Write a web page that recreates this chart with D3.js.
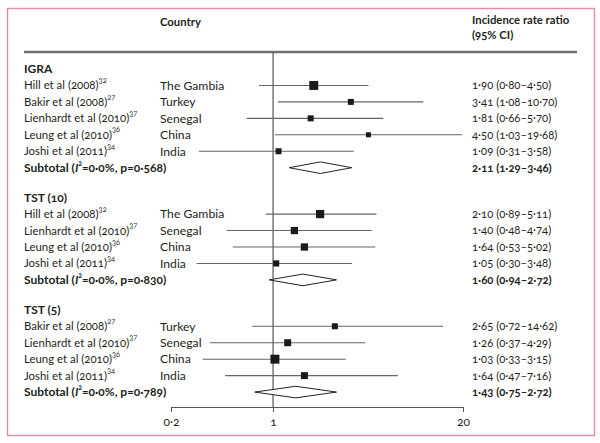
<!DOCTYPE html>
<html><head><meta charset="utf-8">
<script src="https://cdn.jsdelivr.net/npm/d3@7"></script>
<style>
body{margin:0;background:#fff;}
svg text{font-family:Lato,"Open Sans",sans-serif;fill:#231f20;font-variant-numeric:oldstyle-nums;}
</style></head>
<body><svg id="chart" width="600" height="443"></svg>
<script>
// ---- data ----
const groups = ["IGRA", "TST (10)", "TST (5)"];
const studyGroup = [0,0,0,0,0, 1,1,1,1, 2,2,2,2];
const studyNames = ["Hill et al (2008)","Bakir et al (2008)","Lienhardt et al (2010)","Leung et al (2010)","Joshi et al (2011)",
  "Hill et al (2008)","Lienhardt et al (2010)","Leung et al (2010)","Joshi et al (2011)",
  "Bakir et al (2008)","Lienhardt et al (2010)","Leung et al (2010)","Joshi et al (2011)"];
const studyRefs = ["32","27","37","36","34", "32","37","36","34", "27","37","36","34"];
const countries = ["The Gambia","Turkey","Senegal","China","India",
  "The Gambia","Senegal","China","India",
  "Turkey","Senegal","China","India"];
const estimates = [1.90,3.41,1.81,4.50,1.09, 2.10,1.40,1.64,1.05, 2.65,1.26,1.03,1.64];
const lower     = [0.80,1.08,0.66,1.03,0.31, 0.89,0.48,0.53,0.30, 0.72,0.37,0.33,0.47];
const upper     = [4.50,10.70,5.70,19.68,3.58, 5.11,4.74,5.02,3.48, 14.62,4.29,3.15,7.16];
const weights   = [38,17,17,12,17, 32,25,25,18, 17,23,38,23];
const subtotalI2 = ["0·0%","0·0%","0·0%"];
const subtotalP  = ["0·568","0·830","0·789"];
const subEst = [2.11,1.60,1.43];
const subLo  = [1.29,0.94,0.75];
const subHi  = [3.46,2.72,2.72];
const axisTicks = [0.2, 1, 20];
const tickLabels = ["0·2","1","20"];

// ---- build rows ----
const fmt = v => v.toFixed(2).replace(".", "·");
const rows = [];
let unit = 0;
const gap = 0.82;
groups.forEach((g, gi) => {
  if (gi > 0) unit += gap;
  rows.push({type:"head", label:g, u:unit++});
  studyNames.forEach((n, i) => {
    if (studyGroup[i] !== gi) return;
    rows.push({type:"study", name:n, ref:studyRefs[i], country:countries[i],
      est:estimates[i], lo:lower[i], hi:upper[i], w:weights[i], u:unit++});
  });
  rows.push({type:"sub", i2:subtotalI2[gi], p:subtotalP[gi], est:subEst[gi], lo:subLo[gi], hi:subHi[gi], u:unit++});
});

const rowH = 16.45;
const y = d3.scaleLinear().domain([0, 1]).range([69, 69 + rowH]);
const x = d3.scaleLog().domain([0.2, 20]).range([171, 463]);
const size = d3.scaleSqrt().domain([0, 40]).range([0, 9.2]);

const svg = d3.select("#chart");
const FSN = 11.4, FSC = 12.2, FSCI = 11.3, FSB = 12, FSH = 11.3;

// border
svg.append("rect").attr("x", 7.5).attr("y", 8.5).attr("width", 587).attr("height", 427)
  .attr("fill", "none").attr("stroke", "#e58aab").attr("stroke-width", 1.4);

// headers
svg.append("text").attr("x", 160).attr("y", 22).attr("dy", "0.35em")
  .attr("font-size", FSH).attr("font-weight", 700).text("Country");
svg.append("text").attr("x", 472).attr("y", 20.5).attr("dy", "0.35em")
  .attr("font-size", FSH).attr("font-weight", 700).text("Incidence rate ratio");
svg.append("text").attr("x", 472).attr("y", 35).attr("dy", "0.35em")
  .attr("font-size", FSH).attr("font-weight", 700).text("(95% CI)");
svg.append("line").attr("x1", 24).attr("x2", 577).attr("y1", 52).attr("y2", 52)
  .attr("stroke", "#707070").attr("stroke-width", 2.5);

// axis
const axisY = 407;
const axisG = svg.append("g").attr("transform", `translate(0,${axisY})`)
  .call(d3.axisBottom(x).tickValues(axisTicks).tickFormat((d, i) => tickLabels[i]).tickSize(5).tickSizeOuter(0));
axisG.select(".domain").attr("stroke", "#555");
axisG.selectAll(".tick line").attr("stroke", "#555");
axisG.selectAll(".tick text").attr("font-size", 12).attr("font-family", "Lato, sans-serif")
  .attr("fill", "#231f20").attr("dy", "0.9em");

// null line
svg.append("line").attr("x1", x(1)).attr("x2", x(1)).attr("y1", 53).attr("y2", axisY)
  .attr("stroke", "#333").attr("stroke-width", 1);

// rows
rows.forEach(r => {
  const yy = y(r.u);
  if (r.type === "head") {
    svg.append("text").attr("x", 24).attr("y", yy).attr("dy", "0.35em")
      .attr("font-size", FSB).attr("font-weight", 700).text(r.label);
  } else if (r.type === "study") {
    const t = svg.append("text").attr("x", 24).attr("y", yy).attr("dy", "0.35em").attr("font-size", FSN);
    t.append("tspan").text(r.name);
    t.append("tspan").attr("font-size", 7.5).attr("dy", "-0.85em").text(r.ref);
    svg.append("text").attr("x", 160).attr("y", yy).attr("dy", "0.35em").attr("font-size", FSC).text(r.country);
    svg.append("text").attr("x", 472).attr("y", yy).attr("dy", "0.35em").attr("font-size", FSCI)
      .text(`${fmt(r.est)} (${fmt(r.lo)}–${fmt(r.hi)})`);
    svg.append("line").attr("x1", x(r.lo)).attr("x2", x(r.hi)).attr("y1", yy).attr("y2", yy)
      .attr("stroke", "#666").attr("stroke-width", 1.1);
    const s = size(r.w);
    svg.append("rect").attr("x", x(r.est) - s/2).attr("y", yy - s/2).attr("width", s).attr("height", s)
      .attr("fill", "#1a1a1a");
  } else {
    const t = svg.append("text").attr("x", 24).attr("y", yy).attr("dy", "0.35em")
      .attr("font-size", FSB).attr("font-weight", 700);
    t.append("tspan").text("Subtotal (");
    t.append("tspan").attr("font-style", "italic").text("I");
    t.append("tspan").attr("font-size", 7).attr("dy", "-0.9em").text("2");
    t.append("tspan").attr("dy", "0.525em").text(`=${r.i2}, p=${r.p})`);
    svg.append("text").attr("x", 472).attr("y", yy).attr("dy", "0.35em").attr("font-size", FSCI)
      .attr("font-weight", 700).text(`${fmt(r.est)} (${fmt(r.lo)}–${fmt(r.hi)})`);
    const h = 5.8;
    svg.append("path")
      .attr("d", `M${x(r.lo)},${yy} L${x(r.est)},${yy - h} L${x(r.hi)},${yy} L${x(r.est)},${yy + h} Z`)
      .attr("fill", "#fff").attr("stroke", "#222").attr("stroke-width", 1);
  }
});
</script></body></html>
